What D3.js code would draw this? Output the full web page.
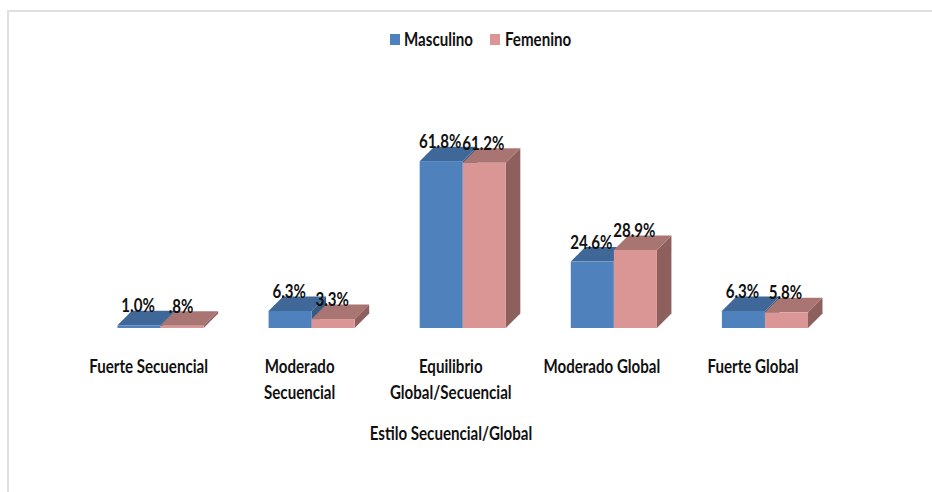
<!DOCTYPE html>
<html>
<head>
<meta charset="utf-8">
<script src="https://cdn.jsdelivr.net/npm/d3@7"></script>
<style>
  html, body { margin: 0; padding: 0; background: #fff; }
  svg { display: block; }
  text { font-family: Lato, "Liberation Sans", sans-serif; font-weight: 700; fill: #111; font-size: 18px; }
</style>
</head>
<body>
<svg id="chart" width="932" height="492"></svg>
<script>
const categories = ["Fuerte Secuencial", "Moderado Secuencial", "Equilibrio Global/Secuencial", "Moderado Global", "Fuerte Global"];
const categoryLines = [["Fuerte Secuencial"], ["Moderado", "Secuencial"], ["Equilibrio", "Global/Secuencial"], ["Moderado Global"], ["Fuerte Global"]];
const seriesNames = ["Masculino", "Femenino"];
const masculino = [1.0, 6.3, 61.8, 24.6, 6.3];
const femenino = [0.8, 3.3, 61.2, 28.9, 5.8];
const valueLabelsM = ["1.0%", "6.3%", "61.8%", "24.6%", "6.3%"];
const valueLabelsF = [".8%", "3.3%", "61.2%", "28.9%", "5.8%"];
const axisTitle = "Estilo Secuencial/Global";

const frontColors = ["#4f81bd", "#d99694"];
const topColors = ["#3f6797", "#a97573"];
const sideColors = ["#375a85", "#8d5f5d"];
const depth = 14.5;
const squeeze = 0.84;

const svg = d3.select("#chart");

// frame: only the top and left edges of the chart area are visible
svg.append("path").attr("d", "M8,492V11H932").attr("fill", "none").attr("stroke", "#e0e0e0").attr("stroke-width", 2);

const x0 = d3.scaleBand().domain(categories).range([85, 840.5]).paddingInner(0.43).paddingOuter(0.215);
const x1 = d3.scaleBand().domain(seriesNames).range([0, x0.bandwidth()]);
const y = d3.scaleLinear().domain([0, 70]).range([328, 139]);

// condensed text: positioned by translate, narrowed horizontally
const place = (px, py) => `translate(${px},${py}) scale(${squeeze},1)`;

const rows = seriesNames.flatMap((name, s) => categories.map((cat, i) => ({
  cat, name, s,
  value: (s === 0 ? masculino : femenino)[i],
  label: (s === 0 ? valueLabelsM : valueLabelsF)[i]
})));

const bars = svg.append("g").selectAll("g").data(rows).join("g");
const left = d => x0(d.cat) + x1(d.name);
const right = d => left(d) + x1.bandwidth();

// right face, top face and front face of each prism
bars.append("path").attr("fill", d => sideColors[d.s]).attr("d", d =>
  `M${right(d)},${y(0)}L${right(d) + depth},${y(0) - depth}L${right(d) + depth},${y(d.value) - depth}L${right(d)},${y(d.value)}Z`);
bars.append("path").attr("fill", d => topColors[d.s]).attr("d", d =>
  `M${left(d)},${y(d.value)}L${left(d) + depth},${y(d.value) - depth}L${right(d) + depth},${y(d.value) - depth}L${right(d)},${y(d.value)}Z`);
bars.append("rect").attr("fill", d => frontColors[d.s])
  .attr("x", left).attr("width", x1.bandwidth())
  .attr("y", d => y(d.value)).attr("height", d => y(0) - y(d.value));

// value labels sit above the front face, drawn after all bars
svg.append("g").selectAll("text").data(rows).join("text")
  .attr("text-anchor", "middle")
  .attr("transform", d => place(left(d) + x1.bandwidth() / 2 - 1, y(d.value) - 13))
  .text(d => d.label);

// category axis with wrapped tick labels, set back to the front edge of the floor
const axis = svg.append("g").attr("transform", "translate(-12,328)")
  .call(d3.axisBottom(x0).tickSize(0).tickFormat(""));
axis.select(".domain").remove();
axis.selectAll(".tick text").each(function (d, i) {
  const t = d3.select(this).attr("y", null).attr("dy", null).attr("fill", null)
    .attr("text-anchor", "middle").attr("transform", `scale(${squeeze},1)`);
  categoryLines[i].forEach((line, k) => {
    t.append("tspan").attr("x", 0).attr("y", 45.5 + k * 26).text(line);
  });
});

svg.append("text").attr("transform", place(451, 439.5)).attr("text-anchor", "middle").text(axisTitle);

// legend
const legendX = [390, 490];
const legendTextX = [404, 505];
const legend = svg.append("g").selectAll("g").data(seriesNames).join("g");
legend.append("rect").attr("x", (d, i) => legendX[i]).attr("y", 34).attr("width", 10).attr("height", 11)
  .attr("fill", (d, i) => frontColors[i]);
legend.append("text").attr("transform", (d, i) => place(legendTextX[i], 46)).text(d => d);
</script>
</body>
</html>
